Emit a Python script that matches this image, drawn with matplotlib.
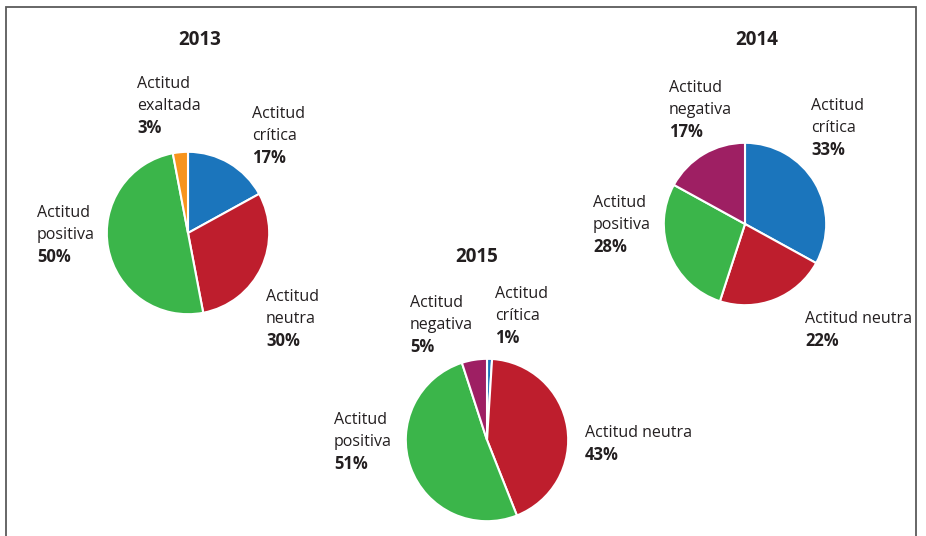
import matplotlib
matplotlib.use('Agg')
import matplotlib.pyplot as plt
from matplotlib.patches import Rectangle

plt.rcParams['font.family'] = ['Open Sans', 'DejaVu Sans']

# datos
years = ['2013', '2014', '2015']
labels_2013 = ['Actitud\ncrítica', 'Actitud\nneutra', 'Actitud\npositiva', 'Actitud\nexaltada']
values_2013 = [17, 30, 50, 3]
labels_2014 = ['Actitud\ncrítica', 'Actitud neutra', 'Actitud\npositiva', 'Actitud\nnegativa']
values_2014 = [33, 22, 28, 17]
labels_2015 = ['Actitud\ncrítica', 'Actitud neutra', 'Actitud\npositiva', 'Actitud\nnegativa']
values_2015 = [1, 43, 51, 5]

c_blue = '#1b75bc'
c_red = '#be1e2d'
c_green = '#3bb54a'
c_orange = '#f7941d'
c_purple = '#9e1f63'
colors_2013 = [c_blue, c_red, c_green, c_orange]
colors_2014 = [c_blue, c_red, c_green, c_purple]
colors_2015 = [c_blue, c_red, c_green, c_purple]

W, H = 926, 536
fig = plt.figure(figsize=(W / 100, H / 100), dpi=100)

# marco
fig.patches.append(Rectangle((6 / W, -0.1), 910 / W, 1.1 - 7 / H, transform=fig.transFigure,
                             fill=False, edgecolor='#5a5a5a', linewidth=1.3))

# posiciones en pixeles (centro x, centro y, radio), titulo, etiquetas
pie_pos = [(188, 233, 82), (745, 224, 82), (487, 440, 82)]
title_pos = [(200, 40), (757, 40), (477, 257)]
label_pos = [
    [(252, 114), (266, 297), (37, 213), (137, 84)],
    [(811, 106), (805, 319), (593, 203), (669, 88)],
    [(495, 294), (585, 433), (334, 420), (410, 303)],
]
all_labels = [labels_2013, labels_2014, labels_2015]
all_values = [values_2013, values_2014, values_2015]
all_colors = [colors_2013, colors_2014, colors_2015]

fs = 11.5
line_h = 22

for k in range(3):
    cx, cy, r = pie_pos[k]
    ax = fig.add_axes([(cx - r) / W, (H - cy - r) / H, 2 * r / W, 2 * r / H])
    ax.pie(all_values[k], colors=all_colors[k], startangle=90, counterclock=False,
           wedgeprops=dict(edgecolor='white', linewidth=1.5))
    ax.set_xlim(-1.01, 1.01)
    ax.set_ylim(-1.01, 1.01)
    ax.set_aspect('equal')
    ax.axis('off')

    tx, ty = title_pos[k]
    fig.text(tx / W, 1 - ty / H, years[k], ha='center', va='center',
             fontsize=13.5, fontweight='bold', color='#231f20')

    for lab, val, (lx, ly) in zip(all_labels[k], all_values[k], label_pos[k]):
        lines = lab.split('\n')
        for i, ln in enumerate(lines):
            fig.text(lx / W, 1 - (ly + i * line_h) / H, ln, ha='left', va='center',
                     fontsize=fs, color='#231f20')
        fig.text(lx / W, 1 - (ly + len(lines) * line_h) / H, f'{val}%', ha='left', va='center',
                 fontsize=12, fontweight='bold', color='#231f20')

fig.savefig('out.png', dpi=100)
